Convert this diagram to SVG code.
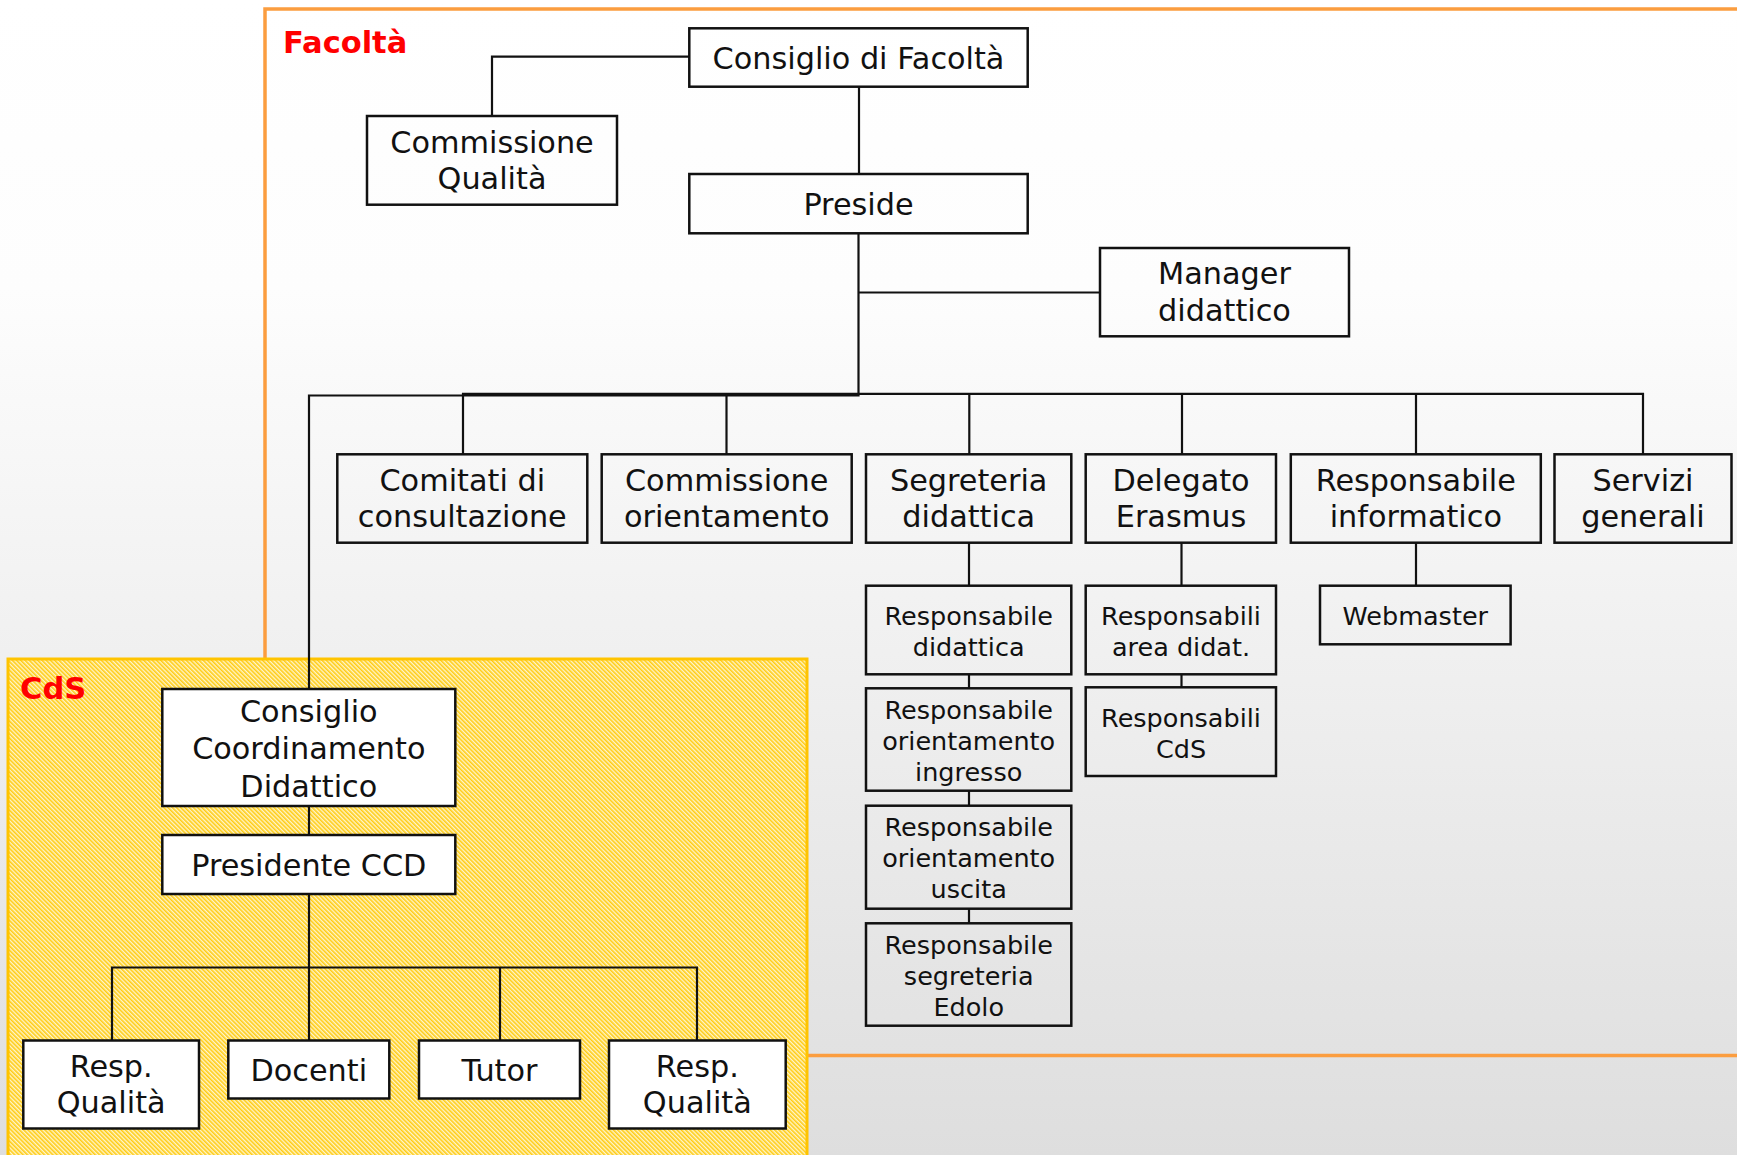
<svg xmlns="http://www.w3.org/2000/svg" width="1737" height="1155" viewBox="0 0 1737 1155">
  <defs>
    <linearGradient id="bg" x1="0" y1="0" x2="0" y2="1155" gradientUnits="userSpaceOnUse">
      <stop offset="0" stop-color="#ffffff"/>
      <stop offset="0.25" stop-color="#fdfdfd"/>
      <stop offset="1" stop-color="#dedede"/>
    </linearGradient>
    <pattern id="hatch" width="3" height="3" patternUnits="userSpaceOnUse" patternTransform="rotate(-45)">
      <rect width="3" height="3" fill="#fff5cc"/>
      <rect width="1.6" height="3" fill="#ffcc14"/>
    </pattern>
    <style>
      .frame-fac { fill: none; stroke: #fb9d3f; stroke-width: 3.5; }
      .frame-cds { fill: url(#hatch); stroke: #ffc400; stroke-width: 3; }
      .area-label { font-family: "DejaVu Sans", Verdana, sans-serif; font-weight: bold; font-size: 30.5px; fill: #ff0000; }
      .box { fill: none; stroke: #111; stroke-width: 2.5; }
      .box-w { fill: #ffffff; stroke: #111; stroke-width: 2.5; }
      .t { font-family: "DejaVu Sans", Verdana, sans-serif; font-size: 30.3px; fill: #111; text-anchor: middle; }
      .ts { font-family: "DejaVu Sans", Verdana, sans-serif; font-size: 25.5px; fill: #111; text-anchor: middle; }
      .links path { fill: none; stroke: #111; stroke-width: 2.2; }
    </style>
  </defs>

  <!-- background -->
  <rect x="0" y="0" width="1737" height="1155" fill="url(#bg)"/>

  <!-- Facoltà area -->
  <g id="area-facolta">
    <rect class="frame-fac" x="265" y="9" width="1490" height="1046.5"/>
  </g>

  <!-- CdS area -->
  <g id="area-cds">
    <rect class="frame-cds" x="8" y="659" width="799" height="520"/>
  </g>

  <!-- connectors -->
  <g class="links" id="connectors">
    <!-- Consiglio di Facoltà to Commissione Qualità -->
    <path d="M689 56.7 H492 V116"/>
    <!-- Consiglio di Facoltà to Preside -->
    <path d="M859 86.7 V174"/>
    <!-- Preside down to main bar, branch to CdS -->
    <path d="M858.5 233.3 V395.5 H309 V689"/>
    <!-- Preside to Manager didattico -->
    <path d="M858.5 292.5 H1100"/>
    <!-- main bar with level-2 branches -->
    <path d="M463 454.3 V393.8 H1643 V454.3"/>
    <path d="M726.5 393.8 V454.3"/>
    <path d="M969.3 393.8 V454.3"/>
    <path d="M1182 393.8 V454.3"/>
    <path d="M1416 393.8 V454.3"/>
    <!-- Segreteria didattica column -->
    <path d="M969 542.7 V585.7"/>
    <path d="M969 674.3 V688.3"/>
    <path d="M969 790.7 V805.7"/>
    <path d="M969 908.7 V923.3"/>
    <!-- Delegato Erasmus column -->
    <path d="M1181.5 542.7 V585.7"/>
    <path d="M1181.5 674.3 V687.3"/>
    <!-- Responsabile informatico to Webmaster -->
    <path d="M1416 542.7 V585.7"/>
    <!-- CdS -->
    <path d="M309 806 V835"/>
    <path d="M309 894 V1040.5"/>
    <path d="M112 1040.5 V967.5 H697 V1040.5"/>
    <path d="M500 967.5 V1040.5"/>
  </g>

  <!-- area labels -->
  <text class="area-label" x="283" y="52.5">Facoltà</text>
  <text class="area-label" x="20" y="699">CdS</text>

  <!-- Facoltà nodes -->
  <g id="consiglio-facolta">
    <rect class="box" x="689.3" y="28.3" width="338.4" height="58.4"/>
    <text class="t" x="858.5" y="68.5">Consiglio di Facoltà</text>
  </g>
  <g id="commissione-qualita">
    <rect class="box" x="367" y="116" width="250" height="88.7"/>
    <text class="t" x="492" y="152.6">Commissione</text>
    <text class="t" x="492" y="189.2">Qualità</text>
  </g>
  <g id="preside">
    <rect class="box" x="689.3" y="174" width="338.4" height="59.3"/>
    <text class="t" x="858.5" y="214.5">Preside</text>
  </g>
  <g id="manager-didattico">
    <rect class="box" x="1100" y="248" width="249" height="88.3"/>
    <text class="t" x="1224.5" y="284.2">Manager</text>
    <text class="t" x="1224.5" y="320.8">didattico</text>
  </g>

  <g id="comitati-consultazione">
    <rect class="box" x="337.3" y="454.3" width="250" height="88.4"/>
    <text class="t" x="462.3" y="490.7">Comitati di</text>
    <text class="t" x="462.3" y="527.3">consultazione</text>
  </g>
  <g id="commissione-orientamento">
    <rect class="box" x="601.7" y="454.3" width="250" height="88.4"/>
    <text class="t" x="726.7" y="490.7">Commissione</text>
    <text class="t" x="726.7" y="527.3">orientamento</text>
  </g>
  <g id="segreteria-didattica">
    <rect class="box" x="866" y="454.3" width="205.3" height="88.4"/>
    <text class="t" x="968.7" y="490.7">Segreteria</text>
    <text class="t" x="968.7" y="527.3">didattica</text>
  </g>
  <g id="delegato-erasmus">
    <rect class="box" x="1085.7" y="454.3" width="190.3" height="88.4"/>
    <text class="t" x="1181" y="490.7">Delegato</text>
    <text class="t" x="1181" y="527.3">Erasmus</text>
  </g>
  <g id="responsabile-informatico">
    <rect class="box" x="1290.8" y="454.3" width="250" height="88.4"/>
    <text class="t" x="1415.8" y="490.7">Responsabile</text>
    <text class="t" x="1415.8" y="527.3">informatico</text>
  </g>
  <g id="servizi-generali">
    <rect class="box" x="1554.5" y="454.3" width="177" height="88.4"/>
    <text class="t" x="1643" y="490.7">Servizi</text>
    <text class="t" x="1643" y="527.3">generali</text>
  </g>

  <g id="responsabile-didattica">
    <rect class="box" x="866" y="585.7" width="205.3" height="88.6"/>
    <text class="ts" x="968.7" y="625">Responsabile</text>
    <text class="ts" x="968.7" y="656">didattica</text>
  </g>
  <g id="responsabile-orientamento-ingresso">
    <rect class="box" x="866" y="688.3" width="205.3" height="102.4"/>
    <text class="ts" x="968.7" y="718.5">Responsabile</text>
    <text class="ts" x="968.7" y="749.5">orientamento</text>
    <text class="ts" x="968.7" y="780.5">ingresso</text>
  </g>
  <g id="responsabile-orientamento-uscita">
    <rect class="box" x="866" y="805.7" width="205.3" height="103"/>
    <text class="ts" x="968.7" y="836.2">Responsabile</text>
    <text class="ts" x="968.7" y="867.2">orientamento</text>
    <text class="ts" x="968.7" y="898.2">uscita</text>
  </g>
  <g id="responsabile-segreteria-edolo">
    <rect class="box" x="866" y="923.3" width="205.3" height="102.4"/>
    <text class="ts" x="968.7" y="953.5">Responsabile</text>
    <text class="ts" x="968.7" y="984.5">segreteria</text>
    <text class="ts" x="968.7" y="1015.5">Edolo</text>
  </g>
  <g id="responsabili-area-didat">
    <rect class="box" x="1085.7" y="585.7" width="190.3" height="88.6"/>
    <text class="ts" x="1181" y="625">Responsabili</text>
    <text class="ts" x="1181" y="656">area didat.</text>
  </g>
  <g id="responsabili-cds">
    <rect class="box" x="1085.7" y="687.3" width="190.3" height="88.7"/>
    <text class="ts" x="1181" y="726.7">Responsabili</text>
    <text class="ts" x="1181" y="757.7">CdS</text>
  </g>
  <g id="webmaster">
    <rect class="box" x="1320" y="585.7" width="190.6" height="58.6"/>
    <text class="ts" x="1415.3" y="625">Webmaster</text>
  </g>

  <!-- CdS nodes -->
  <g id="consiglio-coordinamento-didattico">
    <rect class="box-w" x="162.3" y="689" width="293" height="117"/>
    <text class="t" x="308.8" y="721.7">Consiglio</text>
    <text class="t" x="308.8" y="759">Coordinamento</text>
    <text class="t" x="308.8" y="796.5">Didattico</text>
  </g>
  <g id="presidente-ccd">
    <rect class="box-w" x="162.3" y="835" width="293" height="59"/>
    <text class="t" x="308.8" y="875.8">Presidente CCD</text>
  </g>
  <g id="resp-qualita-1">
    <rect class="box-w" x="23.3" y="1040.5" width="175.7" height="88"/>
    <text class="t" x="111.2" y="1076.7">Resp.</text>
    <text class="t" x="111.2" y="1113.3">Qualità</text>
  </g>
  <g id="docenti">
    <rect class="box-w" x="228.3" y="1040.5" width="161" height="58"/>
    <text class="t" x="308.8" y="1081">Docenti</text>
  </g>
  <g id="tutor">
    <rect class="box-w" x="419" y="1040.5" width="161" height="58"/>
    <text class="t" x="499.5" y="1081">Tutor</text>
  </g>
  <g id="resp-qualita-2">
    <rect class="box-w" x="609" y="1040.5" width="176.7" height="88"/>
    <text class="t" x="697.3" y="1076.7">Resp.</text>
    <text class="t" x="697.3" y="1113.3">Qualità</text>
  </g>
</svg>
